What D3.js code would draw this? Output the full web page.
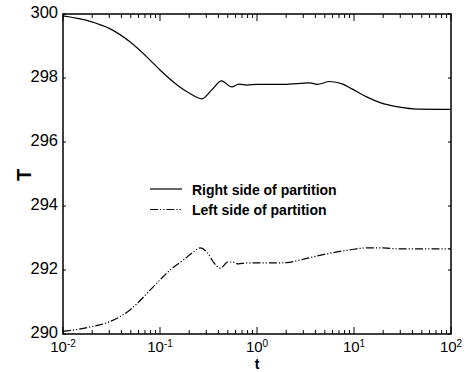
<!DOCTYPE html>
<html>
<head>
<meta charset="utf-8">
<script src="https://cdn.jsdelivr.net/npm/d3@7"></script>
<style>
  body { margin: 0; background: #fff; }
  svg { display: block; font-family: Arial, "Liberation Sans", sans-serif; }
</style>
</head>
<body>
<svg id="chart" width="467" height="372"></svg>
<script>
// 数据
const rightT = [0.01, 0.019, 0.03, 0.049, 0.079, 0.1, 0.16, 0.2, 0.27, 0.34, 0.43, 0.55, 0.65, 0.79, 1.0, 1.9, 3.5, 4.2, 5.6, 7.7, 9.5, 13.5, 18.6, 29.5, 45, 100];
const rightV = [299.94, 299.77, 299.55, 299.13, 298.56, 298.25, 297.72, 297.53, 297.35, 297.62, 297.91, 297.72, 297.81, 297.78, 297.8, 297.8, 297.85, 297.8, 297.89, 297.81, 297.66, 297.41, 297.23, 297.09, 297.03, 297.02];
const leftT = [0.01, 0.019, 0.03, 0.049, 0.079, 0.1, 0.127, 0.174, 0.22, 0.26, 0.31, 0.36, 0.42, 0.5, 0.56, 0.64, 0.79, 1.26, 2.0, 2.77, 4.2, 6.0, 9.1, 13.5, 20, 29.5, 100];
const leftV = [290.08, 290.22, 290.38, 290.75, 291.37, 291.69, 292.0, 292.31, 292.56, 292.69, 292.53, 292.22, 292.06, 292.25, 292.25, 292.19, 292.22, 292.22, 292.23, 292.31, 292.44, 292.54, 292.63, 292.69, 292.69, 292.66, 292.66];
const xTicks = [0.01, 0.1, 1, 10, 100];
const xExp = ["-2", "-1", "0", "1", "2"];
const yTicks = [290, 292, 294, 296, 298, 300];
const seriesNames = ["Right side of partition", "Left side of partition"];

const svg = d3.select("#chart");
const x = d3.scaleLog([0.01, 100], [63, 451]);
const y = d3.scaleLinear([290, 300], [334, 14]);

// 曲线
const line = d3.line()
  .x(d => x(d[0]))
  .y(d => y(d[1]))
  .curve(d3.curveMonotoneX);

const dashes = ["none", "8,2,1.2,2,1.2,2"];
[[rightT, rightV], [leftT, leftV]].forEach(([ts, vs], k) => {
  svg.append("path")
    .datum(ts.map((t, i) => [t, vs[i]]))
    .attr("d", line)
    .attr("fill", "none")
    .attr("stroke", "#000")
    .attr("stroke-width", 1.2)
    .attr("stroke-dasharray", dashes[k]);
});

// 坐标框
svg.append("rect")
  .attr("x", x.range()[0]).attr("y", y.range()[1])
  .attr("width", x.range()[1] - x.range()[0])
  .attr("height", y.range()[0] - y.range()[1])
  .attr("fill", "none").attr("stroke", "#000").attr("stroke-width", 1.5);

// x 刻度（上下，朝内）
const minor = [];
for (let d = -2; d < 2; d++) for (let m = 2; m <= 9; m++) minor.push(m * Math.pow(10, d));
const tickG = svg.append("g").attr("stroke", "#000").attr("stroke-width", 1);
[y.range()[0], y.range()[1]].forEach((yy, side) => {
  const dir = side === 0 ? -1 : 1;
  tickG.selectAll(null).data(xTicks).join("line")
    .attr("x1", d => x(d)).attr("x2", d => x(d))
    .attr("y1", yy).attr("y2", yy + dir * 7);
  tickG.selectAll(null).data(minor).join("line")
    .attr("x1", d => x(d)).attr("x2", d => x(d))
    .attr("y1", yy).attr("y2", yy + dir * 4);
});
// y 刻度
[x.range()[0], x.range()[1]].forEach((xx, side) => {
  const dir = side === 0 ? 1 : -1;
  tickG.selectAll(null).data(yTicks).join("line")
    .attr("x1", xx).attr("x2", xx + dir * 3)
    .attr("y1", d => y(d)).attr("y2", d => y(d));
});

// 刻度标签
svg.append("g").selectAll("text").data(yTicks).join("text")
  .attr("x", 58).attr("y", d => y(d) + 3.5)
  .attr("text-anchor", "end")
  .attr("font-size", 16.5)
  .text(d => d);

const xl = svg.append("g").selectAll("text").data(xTicks).join("text")
  .attr("x", d => x(d)).attr("y", 352)
  .attr("text-anchor", "middle")
  .attr("font-size", 15);
xl.append("tspan").text("10");
xl.append("tspan").attr("dy", -5).attr("font-size", 10).text((d, i) => xExp[i]);

// 轴标题
svg.append("text")
  .attr("x", 257).attr("y", 368.5)
  .attr("text-anchor", "middle")
  .attr("font-size", 14).attr("font-weight", "bold")
  .text("t");
svg.append("text")
  .attr("transform", "translate(31,175) rotate(-90)")
  .attr("text-anchor", "middle")
  .attr("font-size", 20).attr("font-weight", "bold")
  .text("T");

// 图例
const legendG = svg.append("g").attr("transform", "translate(150,189)");
legendG.selectAll("g").data(seriesNames).join("g")
  .attr("transform", (_, i) => `translate(0, ${i * 20.5})`)
  .call(g => {
    g.append("line")
      .attr("x1", 0).attr("x2", 32).attr("y1", 0).attr("y2", 0)
      .attr("stroke", "#000").attr("stroke-width", 1.2)
      .attr("stroke-dasharray", (_, i) => dashes[i]);
    g.append("text")
      .attr("x", 42).attr("y", 5.5)
      .attr("font-size", 14).attr("font-weight", "bold")
      .text(d => d);
  });
</script>
</body>
</html>
